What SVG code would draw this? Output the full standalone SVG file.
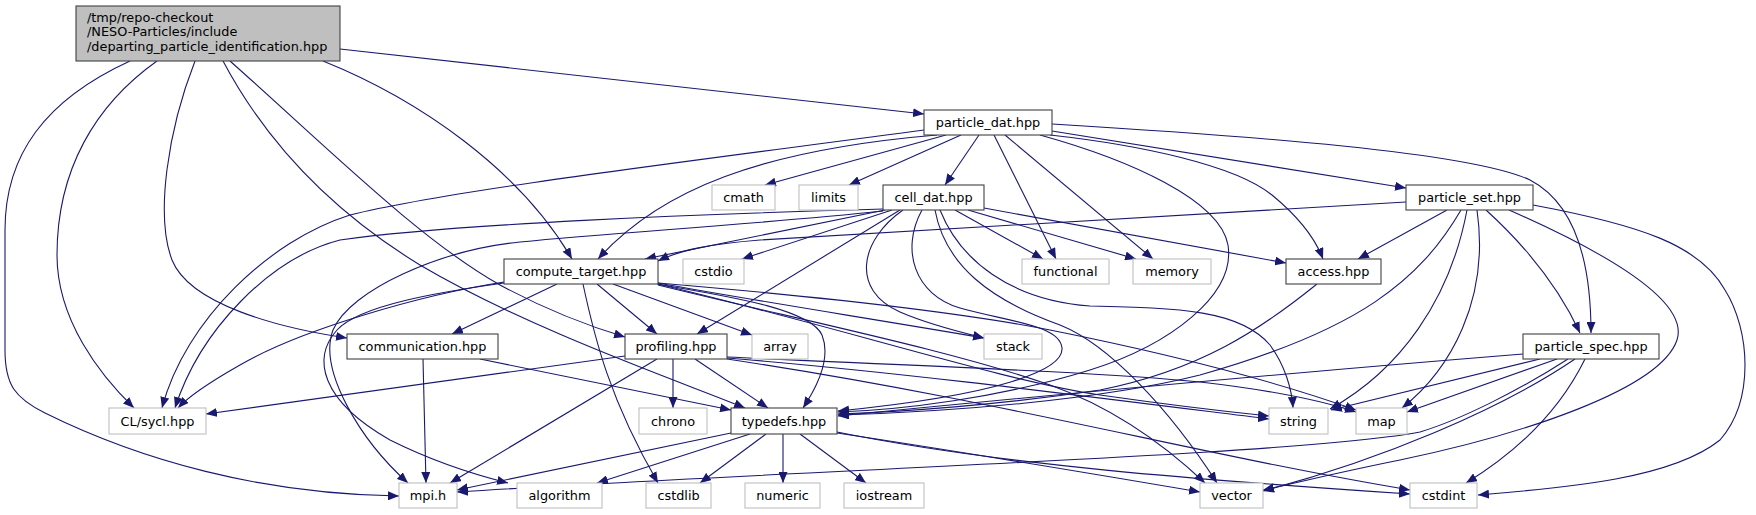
<svg xmlns="http://www.w3.org/2000/svg" width="1756" height="515" viewBox="0 0 1756 515">
<defs>
<marker id="a" viewBox="0 0 11 9" refX="11" refY="4.5" markerWidth="11" markerHeight="9" markerUnits="userSpaceOnUse" orient="auto">
<path d="M0,0L11,4.5L0,9z" fill="#191970"/>
</marker>
<style>
rect{fill:#fff;stroke-width:1.1}
.n rect{stroke:#404040}
.x rect{stroke:#bfbfbf}
.r rect{fill:#bfbfbf;stroke:#404040}
text{font-family:"DejaVu Sans",sans-serif;font-size:12.85px;fill:#000;text-anchor:middle}
.r text{text-anchor:start}
#edges path{fill:none;stroke:#191970;stroke-width:1.1;marker-end:url(#a)}
</style>
</defs>
<rect width="1756" height="515" fill="#fff"/>
<g id="edges">
<!-- root -->
<path d="M340,49 C600,78 800,100 924,114"/>
<path d="M323,61 C420,100 520,170 572,259"/>
<path d="M195,61 C168,130 155,215 172,260 C190,305 280,328 347,338"/>
<path d="M230,61 C330,150 420,240 500,285 C550,312 595,328 625,337"/>
<path d="M223,61 C265,140 330,210 420,265 C530,330 690,385 745,408"/>
<path d="M157,61 C95,105 57,170 57,255 C57,320 100,375 134,408"/>
<path d="M130,61 C45,100 5,155 5,230 L5,350 C5,385 15,398 45,413 C140,460 260,494 399,496"/>
<!-- particle_dat -->
<path d="M924,130 C700,160 450,190 350,215 C270,240 185,320 162,408"/>
<path d="M937,135 C760,150 660,190 598,259"/>
<path d="M946,135 L765,185"/>
<path d="M961,135 L849,185"/>
<path d="M979,135 L945,185"/>
<path d="M994,135 L1056,259"/>
<path d="M1005,135 L1153,259"/>
<path d="M1052,131 L1406,188"/>
<path d="M1052,124 C1250,136 1470,152 1530,180 C1578,205 1591,270 1591,333"/>
<path d="M1050,135 C1140,145 1235,165 1272,195 C1300,218 1315,238 1323,259"/>
<path d="M1040,135 C1130,160 1220,200 1228,245 C1236,295 1170,345 1090,370 C1000,398 900,410 838,412"/>
<!-- cell_dat -->
<path d="M883,209 C700,214 450,224 340,240 C270,258 200,330 175,408"/>
<path d="M885,210 L645,259"/>
<path d="M892,210 L742,259"/>
<path d="M900,210 L697,334"/>
<path d="M903,210 C860,240 850,290 900,312 C930,325 960,332 984,338"/>
<path d="M922,210 C900,250 915,295 960,308 C1010,322 1060,325 1062,348 C1064,370 1000,395 838,411"/>
<path d="M935,210 C945,265 990,300 1060,325 C1110,345 1170,410 1217,483"/>
<path d="M940,210 C960,260 1010,300 1090,306 C1180,308 1240,310 1270,345 C1285,365 1292,390 1293,408"/>
<path d="M955,210 L1043,259"/>
<path d="M968,210 L1136,259"/>
<path d="M984,208 L1286,263"/>
<path d="M883,211 C750,225 620,232 520,242 C440,250 350,290 333,330 C318,370 360,440 408,483"/>
<!-- compute_target -->
<path d="M504,282 C420,295 300,330 240,365 C210,382 190,395 178,408"/>
<path d="M504,283 C440,292 360,305 337,330 C312,358 320,400 390,440 C440,465 480,476 508,483"/>
<path d="M557,284 L452,334"/>
<path d="M583,284 C595,340 610,400 658,483"/>
<path d="M597,284 L657,334"/>
<path d="M613,284 L752,335"/>
<path d="M657,284 C720,295 810,308 822,335 C832,360 815,390 803,408"/>
<path d="M658,283 C750,300 880,320 984,338"/>
<path d="M658,283 C800,295 950,310 1050,330 C1200,360 1300,390 1356,410"/>
<path d="M658,284 C850,330 1000,380 1100,395 C1170,405 1230,412 1269,416"/>
<path d="M658,285 C800,320 950,350 1050,385 C1120,410 1170,450 1205,483"/>
<!-- profiling -->
<path d="M625,356 L206,414"/>
<path d="M673,359 L673,408"/>
<path d="M695,359 L768,408"/>
<path d="M657,359 L450,483"/>
<path d="M727,357 C900,365 1100,372 1200,382 C1270,390 1320,400 1356,412"/>
<path d="M727,358 C900,372 1100,398 1269,419"/>
<path d="M727,359 C1000,400 1200,455 1410,490"/>
<!-- communication -->
<path d="M423,359 L426,483"/>
<path d="M480,359 L731,410"/>
<!-- typedefs -->
<path d="M731,433 L457,490"/>
<path d="M750,434 L597,483"/>
<path d="M766,434 L700,483"/>
<path d="M783,434 L783,483"/>
<path d="M800,434 L866,483"/>
<path d="M837,433 C950,450 1100,475 1200,492"/>
<path d="M837,432 C1000,465 1200,480 1410,494"/>
<!-- access -->
<path d="M1317,284 C1260,330 1200,370 1100,390 C1000,405 900,412 838,414"/>
<!-- particle_set -->
<path d="M1406,202 C1100,222 850,235 760,240 C710,244 680,250 658,261"/>
<path d="M1447,210 L1358,259"/>
<path d="M1461,210 C1420,280 1360,330 1200,375 C1100,400 950,412 838,415"/>
<path d="M1467,210 C1450,300 1400,370 1330,409"/>
<path d="M1477,210 C1490,300 1450,370 1402,408"/>
<path d="M1486,210 C1530,250 1560,290 1580,333"/>
<path d="M1509,210 C1600,250 1690,300 1677,340 C1660,390 1520,435 1400,460 C1340,472 1300,482 1263,490"/>
<path d="M1533,205 C1640,225 1700,245 1725,290 C1750,330 1755,400 1720,440 C1670,480 1560,488 1478,495"/>
<!-- particle_spec -->
<path d="M1523,354 C1300,372 1000,400 838,416"/>
<path d="M1540,359 L1331,410"/>
<path d="M1557,359 L1407,412"/>
<path d="M1568,359 C1520,390 1460,420 1420,432 C1300,455 800,470 457,492"/>
<path d="M1575,359 C1500,410 1380,460 1263,491"/>
<path d="M1585,359 C1560,410 1520,450 1466,483"/>
</g>
<g id="root" class="r"><rect x="76" y="6" width="264" height="55"/><text x="87" y="21.5">/tmp/repo-checkout</text><text x="87" y="36">/NESO-Particles/include</text><text x="87" y="50.5">/departing_particle_identification.hpp</text></g>
<g id="particle_dat" class="n"><rect x="924" y="110" width="128" height="25"/><text x="988" y="127">particle_dat.hpp</text></g>
<g id="cmath" class="x"><rect x="712" y="185" width="63" height="25"/><text x="743.5" y="202">cmath</text></g>
<g id="limits" class="x"><rect x="799" y="185" width="59" height="25"/><text x="828.5" y="202">limits</text></g>
<g id="cell_dat" class="n"><rect x="883" y="185" width="101" height="25"/><text x="933.5" y="202">cell_dat.hpp</text></g>
<g id="particle_set" class="n"><rect x="1406" y="185" width="127" height="25"/><text x="1469.5" y="202">particle_set.hpp</text></g>
<g id="compute_target" class="n"><rect x="504" y="259" width="154" height="25"/><text x="581" y="276">compute_target.hpp</text></g>
<g id="cstdio" class="x"><rect x="683" y="259" width="61" height="25"/><text x="713.5" y="276">cstdio</text></g>
<g id="functional" class="x"><rect x="1022" y="259" width="87" height="25"/><text x="1065.5" y="276">functional</text></g>
<g id="memory" class="x"><rect x="1133" y="259" width="78" height="25"/><text x="1172" y="276">memory</text></g>
<g id="access" class="n"><rect x="1286" y="259" width="95" height="25"/><text x="1333.5" y="276">access.hpp</text></g>
<g id="communication" class="n"><rect x="347" y="334" width="151" height="25"/><text x="422.5" y="351">communication.hpp</text></g>
<g id="profiling" class="n"><rect x="625" y="334" width="102" height="25"/><text x="676" y="351">profiling.hpp</text></g>
<g id="array" class="x"><rect x="752" y="334" width="56" height="25"/><text x="780" y="351">array</text></g>
<g id="stack" class="x"><rect x="984" y="334" width="58" height="25"/><text x="1013" y="351">stack</text></g>
<g id="particle_spec" class="n"><rect x="1523" y="334" width="136" height="25"/><text x="1591" y="351">particle_spec.hpp</text></g>
<g id="sycl" class="x"><rect x="109" y="408" width="97" height="26"/><text x="157.5" y="426">CL/sycl.hpp</text></g>
<g id="chrono" class="x"><rect x="639" y="408" width="68" height="26"/><text x="673" y="426">chrono</text></g>
<g id="typedefs" class="n"><rect x="731" y="408" width="106" height="26"/><text x="784" y="426">typedefs.hpp</text></g>
<g id="string" class="x"><rect x="1269" y="408" width="59" height="26"/><text x="1298.5" y="426">string</text></g>
<g id="map" class="x"><rect x="1356" y="408" width="51" height="26"/><text x="1381.5" y="426">map</text></g>
<g id="mpi" class="x"><rect x="399" y="483" width="58" height="25"/><text x="428" y="500">mpi.h</text></g>
<g id="algorithm" class="x"><rect x="517" y="483" width="85" height="25"/><text x="559.5" y="500">algorithm</text></g>
<g id="cstdlib" class="x"><rect x="646" y="483" width="65" height="25"/><text x="678.5" y="500">cstdlib</text></g>
<g id="numeric" class="x"><rect x="745" y="483" width="75" height="25"/><text x="782.5" y="500">numeric</text></g>
<g id="iostream" class="x"><rect x="844" y="483" width="80" height="25"/><text x="884" y="500">iostream</text></g>
<g id="vector" class="x"><rect x="1200" y="483" width="63" height="25"/><text x="1231.5" y="500">vector</text></g>
<g id="cstdint" class="x"><rect x="1410" y="483" width="67" height="25"/><text x="1443.5" y="500">cstdint</text></g>
</svg>
